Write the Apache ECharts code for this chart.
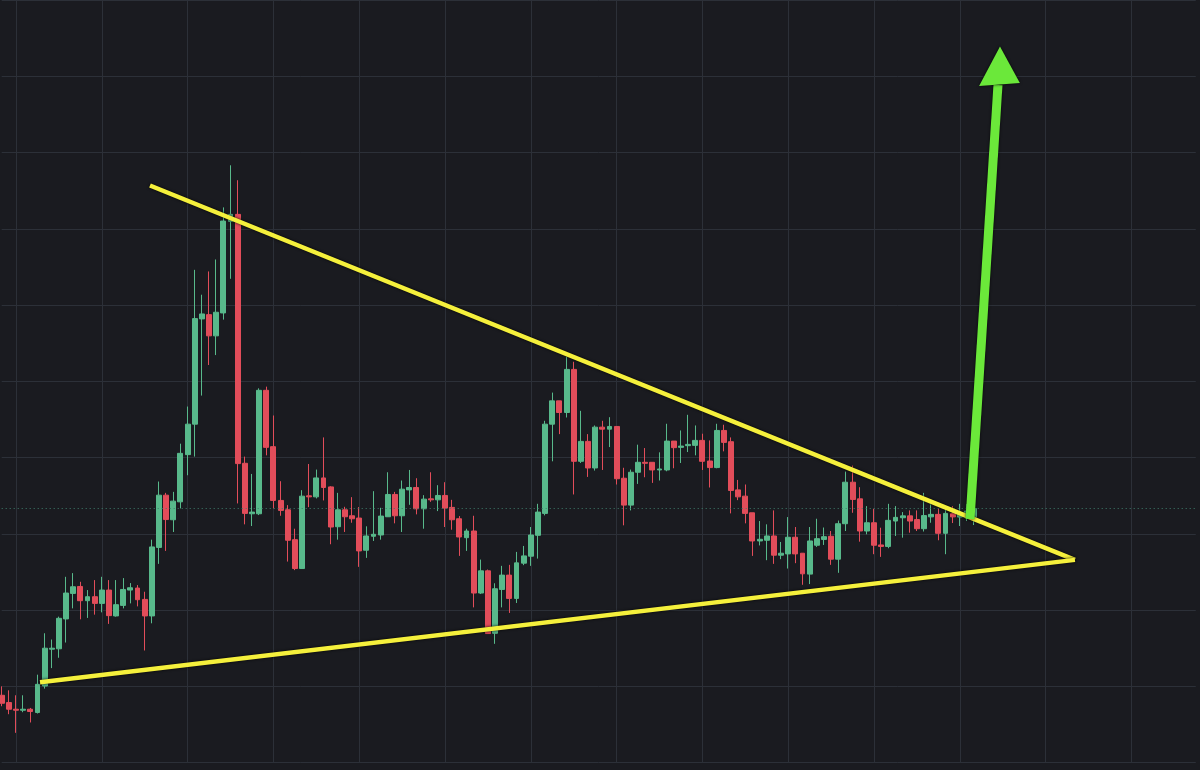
<!DOCTYPE html>
<html><head><meta charset="utf-8">
<script src="https://cdn.jsdelivr.net/npm/echarts@6/dist/echarts.min.js"></script>
<style>html,body{margin:0;padding:0;background:#1a1b20;overflow:hidden}#c{width:1200px;height:770px;}</style>
</head><body><div id="c"></div><script>
// Category slots (candles + empty space on the right)
const categories = Array.from({length: 168}, (_, i) => 'P' + i);

const opens = [67.7,60.4,53.7,52.7,53.7,50.4,77,114,114.4,144.4,
170,177,162.7,166.7,160,173.4,147.4,158,173.4,175.4,
164,147.4,216.2,268.7,244,262,309.4,340,445.7,450,
428.7,451.7,543.7,550.7,300.7,250,250,374,317.4,263.4,
254,224,195,268,267,286,277,237,254,248,
245.7,213.4,227.4,228.7,247,269.4,248,274,276.4,255,
265,264,268.4,256.4,245,226,232.7,170.4,192.7,130,
174,188.4,165,200.4,207.4,228.4,250.4,340,363.4,351.7,
395,302.7,322.7,296,337,335,337.7,285.7,258.7,291.7,
301.7,301.7,294,294,323,316.7,318.4,318.7,323.7,303,
296.4,333.7,322.4,274,267.7,251,222.7,223.4,227.7,208.4,
209.7,226.4,210.4,189.4,218.4,224.2,227.4,204.4,240,281.7,
265,232.7,241,218.7,217.2,242.7,246,247.9,244.2,235,
246.9,249.4,230.4,250,246.7,246.7,246.7];

const closes = [59.7,53.7,52.7,53.7,51.4,78.7,115,115,145,170.4,
176.7,162.7,166.7,160,173.4,147.7,158.7,174,175.7,163.7,
147.4,216.7,268.7,244.2,262.7,310.7,340,446,450.7,428.7,
452.4,544,550.7,300.4,250.4,251.7,374,316.7,263.4,253.4,
223.4,195,267.7,267,286,276.4,236.7,254,247,245,
212.7,227.7,229.4,247.7,269.4,248,274.7,276.4,255,264.7,
264,268.4,255.7,244,226.7,232.7,170.4,192.7,129.7,174.7,
188.4,165,200.7,207.7,228.7,251.7,340,363.4,351.7,395,
302.7,322.7,296,337,335,337.7,285.2,258.7,291.7,301.7,
300.7,294,295,323,316.4,318,319.7,323.7,302.7,296.4,
333.7,321.7,273.4,267,250.4,222.7,224.4,227.7,208.4,210.4,
226.4,209.7,189.7,222.7,225,227,204.4,240,281.7,264.4,
232.7,241,218.4,217.2,243.4,246.4,247.9,242.7,235,248.2,
249.4,230.4,250.4,246.9,249.2,252.7,255.2];

const lows = [56.7,48.7,30,50.7,40.4,49.4,74.4,95,105.4,120.7,
155,144,145.4,148.7,151,139.4,146.7,155,160,157,
112.7,140,199.7,212.7,231.7,255.4,288.7,307.4,368.7,399.4,
409.4,445,486,260.4,239.4,237.7,248.7,308.7,255.4,248,
202,193.4,195,256.7,265.4,263.4,219.4,224,231.7,241,
196.7,205.7,222.7,224,247,240.4,231.7,259,249.4,235,
262,252.7,236.7,234,207.7,212.7,156,169.4,129.4,119.4,
156,150.4,160.4,198.4,197.7,205,248.4,302.7,330,346.7,
269.4,301,287,293.4,294,317,279.4,238.4,253.4,280,
286.7,281,283.4,292.7,295.7,301,312,308.7,294,276.4,
295.7,312.7,250.4,263.7,240.4,207.7,218.2,203.4,199.7,204.4,
195,200.4,178.7,179.4,216.7,218.7,198.7,190.7,232.7,251,
222,229.4,209.4,206.7,215.4,227.7,226,231,232.7,232.2,
241,223.4,209.4,240.7,237.7,242.7,238.7];

const highs = [76.7,72.7,67.7,67.7,55,88.4,130,123.7,146.7,186.7,
190.4,181.7,173.4,183.4,186.7,183.4,183.4,185.4,180.4,178.4,
171.7,224,282.4,271,272,320.4,357.7,495,470,493.4,
505.4,557.7,600,585,307.4,290,376,377.7,348.7,282.7,
258.7,235,273.7,300,294.4,326.7,277.7,271,257,266.7,
256.7,237.4,272.7,256,291.7,272,283.4,294,285.7,268.7,
291.7,278.7,281.7,264,247.7,235,248,204,194,180.2,
197.7,198.7,211.7,217.7,236.7,260,343.4,371.7,363.4,407.7,
402.7,353.4,330,338.7,343.4,347,337.7,296.2,294.4,319.4,
316,301.7,311.7,340.4,323,333.7,349.4,338.7,330.4,323.7,
340.4,339.4,326.7,284,279.4,251,242.7,239.4,253.4,221.7,
246.7,236.7,210.4,236.7,245,236.2,232.7,243.2,292.4,298.4,
276.7,257.7,255,236,260,257.7,251.7,253.4,253.4,271,
259.4,255.2,256,257.7,260,259.7,256.5];

// Drawn annotations, in [slot index, price] units
const upperTrend = [[20.74, 579.7], [150.1, 203.7]];
const lowerTrend = [[5.36, 80.7], [150.1, 203.7]];
const arrowShaft = [[135.43, 244.7], [139.34, 680.7]];
const arrowHead = [[136.7, 679.7], [142.4, 682.7], [139.62, 719.2]];

const candleData = opens.map((o, i) => [o, closes[i], lows[i], highs[i]]);
const lastClose = closes[closes.length - 1];

const UP = '#58b98b', DOWN = '#e24d5a', GRIDC = '#2c3038';
const YELLOW = '#f5f03c', LIME = '#6be83a';

const chart = echarts.init(document.getElementById('c'), null, {renderer: 'canvas'});
chart.setOption({
  backgroundColor: '#1a1b20',
  animation: false,
  grid: {left: 1.7, top: -3.3, width: 1194.05, height: 766, containLabel: false},
  xAxis: [{
    type: 'category', data: categories, boundaryGap: false,
    axisLine: {show: false}, axisTick: {show: false}, axisLabel: {show: false},
    splitLine: {show: true, interval: (idx) => idx % 12 === 2, lineStyle: {color: GRIDC, width: 1}}
  }, {
    type: 'value', min: 0, max: 167, show: false, splitLine: {show: false}
  }],
  yAxis: {
    type: 'value', min: 0, max: 766, interval: 76.6,
    axisLine: {show: false}, axisTick: {show: false}, axisLabel: {show: false},
    splitLine: {show: true, lineStyle: {color: GRIDC, width: 1}}
  },
  series: [{
    type: 'candlestick', xAxisIndex: 0, yAxisIndex: 0,
    data: candleData, barWidth: 5.4,
    itemStyle: {color: UP, color0: DOWN, borderColor: UP, borderColor0: DOWN, borderWidth: 1},
    markLine: {
      silent: true, symbol: ['none', 'none'], label: {show: false},
      lineStyle: {color: '#3f7f6c', type: [1, 3], width: 1},
      data: [{yAxis: lastClose}]
    },
    z: 2
  }, {
    type: 'line', xAxisIndex: 1, yAxisIndex: 0, data: upperTrend,
    symbol: 'none', silent: true,
    lineStyle: {color: YELLOW, width: 4.5, cap: 'butt', shadowColor: 'rgba(0,0,0,0.9)', shadowBlur: 3},
    z: 5
  }, {
    type: 'line', xAxisIndex: 1, yAxisIndex: 0, data: lowerTrend,
    symbol: 'none', silent: true,
    lineStyle: {color: YELLOW, width: 4.5, cap: 'butt', shadowColor: 'rgba(0,0,0,0.9)', shadowBlur: 3},
    z: 5
  }, {
    type: 'line', xAxisIndex: 1, yAxisIndex: 0, data: arrowShaft,
    symbol: 'none', silent: true,
    lineStyle: {color: LIME, width: 9, cap: 'butt', shadowColor: 'rgba(0,0,0,0.8)', shadowBlur: 3},
    z: 6
  }, {
    type: 'custom', xAxisIndex: 1, yAxisIndex: 0, silent: true, z: 7,
    data: [arrowHead.flat()],
    renderItem: function (params, api) {
      const pts = [];
      for (let k = 0; k < 3; k++) pts.push(api.coord([api.value(2 * k), api.value(2 * k + 1)]));
      return {type: 'polygon', shape: {points: pts},
        style: {fill: LIME, shadowColor: 'rgba(0,0,0,0.8)', shadowBlur: 3}};
    }
  }]
});
</script></body></html>
